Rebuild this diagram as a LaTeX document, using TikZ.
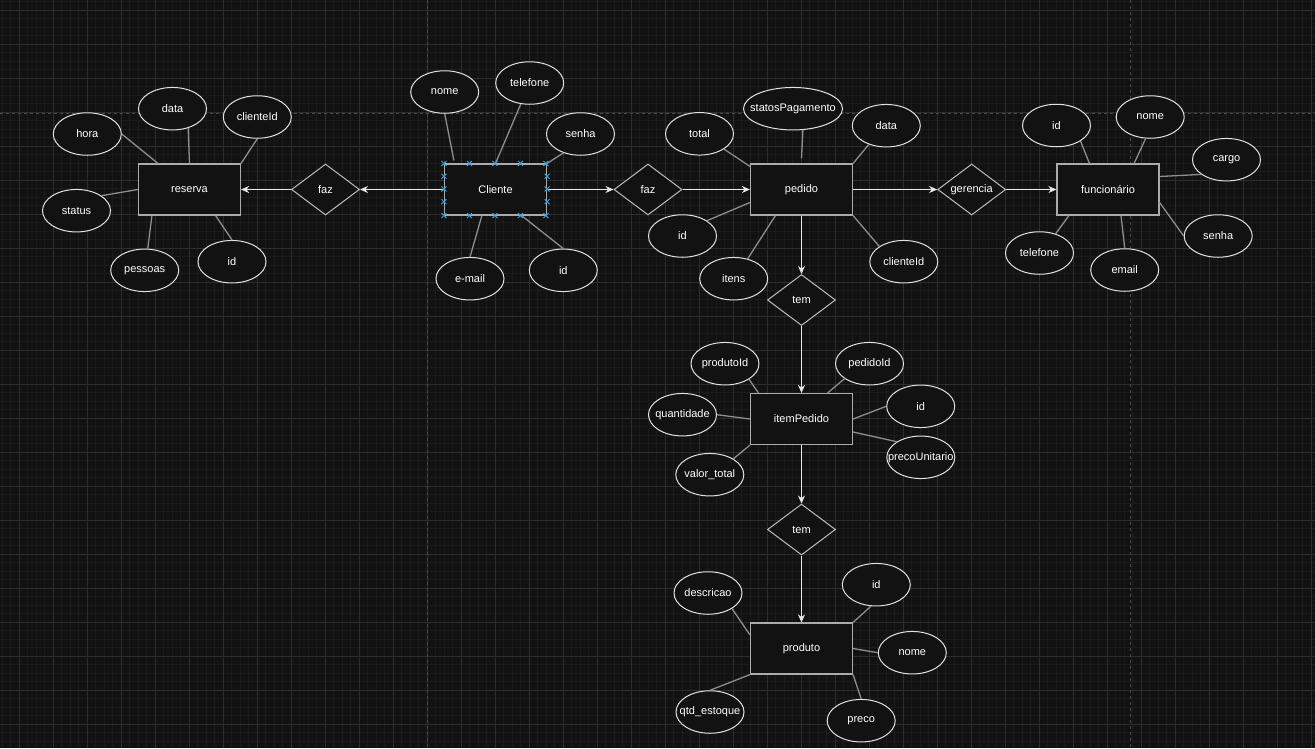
\documentclass[tikz,border=0pt]{standalone}
\usepackage{fontspec}
\setmainfont{Liberation Sans}
\usepackage{tikz}
\usetikzlibrary{arrows.meta, positioning, shapes.geometric}

\definecolor{bgcol}{HTML}{121212}
\definecolor{gridminor}{HTML}{1B1B1B}
\definecolor{gridmajor}{HTML}{2D2D2D}
\definecolor{pagecol}{HTML}{4A4A4A}
\definecolor{boxcol}{HTML}{ABABAB}
\definecolor{ovalcol}{HTML}{E2E2E2}
\definecolor{linkcol}{HTML}{8E8E8E}
\definecolor{arrowcol}{HTML}{E8E8E8}
\definecolor{pointcol}{HTML}{3D9FDD}

\begin{document}
\begin{tikzpicture}[x=1pt, y=-1pt,
    every node/.style={font=\fontsize{11}{13}\selectfont, text=white},
    entity/.style={rectangle, draw=boxcol, fill=bgcol, line width=1.2pt, minimum width=102pt, minimum height=51pt, inner sep=0pt},
    relation/.style={diamond, draw=boxcol!80!white, fill=bgcol, line width=1pt, aspect=1.33, minimum width=68pt, minimum height=51pt, inner sep=0pt},
    attrib/.style={ellipse, draw=ovalcol, fill=bgcol, line width=1pt, minimum width=68pt, minimum height=42.5pt, inner xsep=-10pt, inner ysep=0pt},
    link/.style={draw=linkcol, line width=1.3pt},
    arrowlink/.style={draw=arrowcol, line width=1pt, -{Stealth[length=8pt, width=7pt]}}]

    \useasboundingbox (0,0) rectangle (1315,748);
    \fill[bgcol] (0,0) rectangle (1315,748);
    \foreach \i in {0,...,156} \draw[gridminor, line width=0.8pt] ({-14.7+8.5*\i},0) -- ({-14.7+8.5*\i},748);
    \foreach \i in {0,...,90} \draw[gridminor, line width=0.8pt] (0,{-24+8.5*\i}) -- (1315,{-24+8.5*\i});
    \foreach \i in {0,...,38} \draw[gridmajor, line width=0.8pt] ({19.3+34*\i},0) -- ({19.3+34*\i},748);
    \foreach \i in {0,...,21} \draw[gridmajor, line width=0.8pt] (0,{10+34*\i}) -- (1315,{10+34*\i});
    \draw[pagecol, line width=0.8pt, dash pattern=on 3pt off 3pt] (0,113.3) -- (1315,113.3);
    \draw[pagecol, line width=0.8pt, dash pattern=on 3pt off 3pt] (427.3,0) -- (427.3,748);
    \draw[pagecol, line width=0.8pt, dash pattern=on 3pt off 3pt] (1130.7,0) -- (1130.7,748);

    \node[entity] (reserva) at (189.5,189.5) {reserva};
    \node[entity] (cliente) at (495.5,189.5) {Cliente};
    \node[entity] (pedido) at (801.5,189.5) {pedido};
    \node[entity] (funcionario) at (1108,189.5) {funcionário};
    \node[entity] (itemPedido) at (801.5,419) {itemPedido};
    \node[entity] (produto) at (801.5,648.5) {produto};

    \node[relation] (fazRes) at (325.5,189.5) {faz};
    \node[relation] (fazPed) at (648,189.5) {faz};
    \node[relation] (gerencia) at (971.7,189.5) {gerencia};
    \node[relation] (temItem) at (801.5,300) {tem};
    \node[relation] (temProd) at (801.5,529.5) {tem};

    \node[attrib] (resHora) at (87.3,134) {hora};
    \node[attrib] (resData) at (172.5,108.7) {data};
    \node[attrib] (resCliente) at (257.3,117) {clienteId};
    \node[attrib] (resStatus) at (76.5,210.7) {status};
    \node[attrib] (resPessoas) at (144.7,270.3) {pessoas};
    \node[attrib] (resId) at (232,261.7) {id};

    \node[attrib] (cliNome) at (444.7,92) {nome};
    \node[attrib] (cliTel) at (529.7,83) {telefone};
    \node[attrib] (cliSenha) at (580.5,134) {senha};
    \node[attrib] (cliEmail) at (470,278.7) {e-mail};
    \node[attrib] (cliId) at (563.3,270.3) {id};

    \node[attrib, minimum width=99pt] (pedStatus) at (793,108.7) {statosPagamento};
    \node[attrib] (pedTotal) at (699.5,133.8) {total};
    \node[attrib] (pedData) at (886.3,125.7) {data};
    \node[attrib] (pedId) at (682.5,236) {id};
    \node[attrib] (pedItens) at (733.7,278.7) {itens};
    \node[attrib] (pedCliente) at (903.8,261.7) {clienteId};

    \node[attrib] (funId) at (1056.5,125.5) {id};
    \node[attrib] (funNome) at (1150.2,117) {nome};
    \node[attrib] (funCargo) at (1226.5,159.7) {cargo};
    \node[attrib] (funSenha) at (1218.2,236) {senha};
    \node[attrib] (funTel) at (1039.5,253) {telefone};
    \node[attrib] (funEmail) at (1124.7,270) {email};

    \node[attrib] (itmProduto) at (725,363.7) {produtoId};
    \node[attrib] (itmPedido) at (869.5,363.7) {pedidoId};
    \node[attrib] (itmId) at (920.7,406.3) {id};
    \node[attrib] (itmPreco) at (920.8,457.3) {precoUnitario};
    \node[attrib] (itmQtd) at (682.5,414.7) {quantidade};
    \node[attrib] (itmValor) at (709.8,474.7) {valor\_total};

    \node[attrib] (proDesc) at (708,593) {descricao};
    \node[attrib] (proId) at (876.3,584.7) {id};
    \node[attrib] (proNome) at (912.3,652.7) {nome};
    \node[attrib] (proPreco) at (861.2,720.7) {preco};
    \node[attrib] (proEstoque) at (710,712) {qtd\_estoque};

    \draw[link] (resHora.east) -- ([xshift=20pt]reserva.north west);
    \draw[link] (resData.-51) -- (reserva.north);
    \draw[link] (resCliente.south) -- (reserva.north east);
    \draw[link] (resStatus.31) -- (reserva.west);
    \draw[link] (resPessoas.82) -- ([xshift=14pt]reserva.south west);
    \draw[link] (resId.north) -- ([xshift=-25.5pt]reserva.south east);

    \draw[link] (cliNome.south) -- ([xshift=10pt, yshift=3pt]cliente.north west);
    \draw[link] (cliTel.-113) -- (cliente.north);
    \draw[link] (cliSenha.-132) -- (cliente.north east);
    \draw[link] (cliEmail.north) -- ([xshift=38pt]cliente.south west);
    \draw[link] (cliId.north) -- ([xshift=-25.5pt]cliente.south east);

    \draw[link] (pedStatus.-65) -- ([yshift=5pt]pedido.north);
    \draw[link] (pedTotal.-32) -- ([yshift=-3pt]pedido.north west);
    \draw[link] (pedData.-133) -- (pedido.north east);
    \draw[link] (pedId.32) -- ([yshift=-13pt]pedido.west);
    \draw[link] (pedItens.55) -- ([xshift=25.5pt]pedido.south west);
    \draw[link] (pedCliente.148) -- (pedido.south east);

    \draw[link] (funId.-33) -- ([xshift=33pt]funcionario.north west);
    \draw[link] (funNome.-102) -- ([xshift=-25.5pt]funcionario.north east);
    \draw[link] (funCargo.-150) -- ([yshift=13pt]funcionario.east);
    \draw[link] (funSenha.west) -- ([yshift=-13pt]funcionario.east);
    \draw[link] (funTel.50) -- ([xshift=12.5pt]funcionario.south west);
    \draw[link] (funEmail.north) -- ([xshift=13pt]funcionario.south);

    \draw[link] (itmProduto.-33) -- ([xshift=8.5pt]itemPedido.north west);
    \draw[link] (itmPedido.-149) -- ([xshift=-25.5pt]itemPedido.north east);
    \draw[link] (itmId.west) -- (itemPedido.east);
    \draw[link] (itmPreco.147) -- ([yshift=-13pt]itemPedido.east);
    \draw[link] (itmQtd.east) -- (itemPedido.west);
    \draw[link] (itmValor.34) -- (itemPedido.south west);

    \draw[link] (proDesc.-33) -- ([yshift=-12.5pt]produto.north west);
    \draw[link] (proId.-104) -- (produto.north east);
    \draw[link] (proNome.west) -- (produto.east);
    \draw[link] (proPreco.north) -- (produto.south east);
    \draw[link] (proEstoque.north) -- (produto.south west);

    \draw[arrowlink] (cliente.west) -- (fazRes.east);
    \draw[arrowlink] (fazRes.west) -- (reserva.east);
    \draw[arrowlink] (cliente.east) -- (fazPed.west);
    \draw[arrowlink] (fazPed.east) -- (pedido.west);
    \draw[arrowlink] (pedido.east) -- (gerencia.west);
    \draw[arrowlink] (gerencia.east) -- (funcionario.west);
    \draw[arrowlink] (pedido.south) -- (temItem.north);
    \draw[arrowlink] (temItem.south) -- (itemPedido.north);
    \draw[arrowlink] (itemPedido.south) -- (temProd.north);
    \draw[arrowlink] (temProd.south) -- (produto.north);

    \foreach \px in {0,25.5,51,76.5,102} {
        \draw[pointcol, line width=1pt] ([shift={(\px pt-2.5pt,2.5pt)}]cliente.north west) -- ++(5pt,-5pt) ++(-5pt,0) -- ++(5pt,5pt);
        \draw[pointcol, line width=1pt] ([shift={(\px pt-2.5pt,2.5pt)}]cliente.south west) -- ++(5pt,-5pt) ++(-5pt,0) -- ++(5pt,5pt);
    }
    \foreach \py in {12.75,25.5,38.25} {
        \draw[pointcol, line width=1pt] ([shift={(-2.5pt,-\py pt+2.5pt)}]cliente.north west) -- ++(5pt,-5pt) ++(-5pt,0) -- ++(5pt,5pt);
        \draw[pointcol, line width=1pt] ([shift={(-2.5pt,-\py pt+2.5pt)}]cliente.north east) -- ++(5pt,-5pt) ++(-5pt,0) -- ++(5pt,5pt);
    }
\end{tikzpicture}
\end{document}
